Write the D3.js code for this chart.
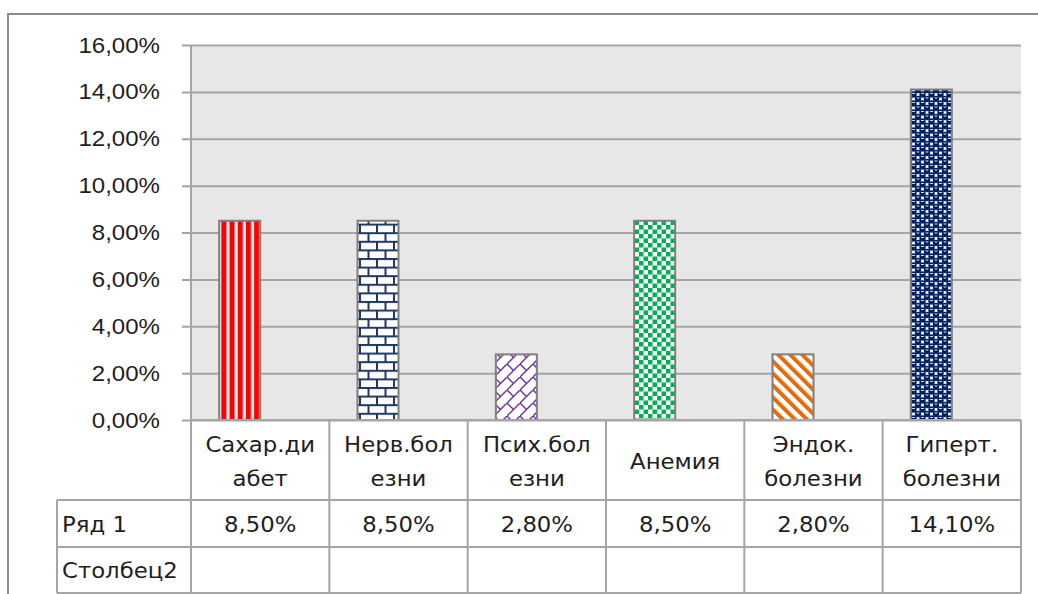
<!DOCTYPE html>
<html lang="ru">
<head>
<meta charset="utf-8">
<script src="https://cdn.jsdelivr.net/npm/d3@7"></script>
<style>
  html, body { margin: 0; padding: 0; background: #fff; }
  svg { display: block; font-family: "DejaVu Sans", sans-serif; }
</style>
</head>
<body>
<svg id="chart" width="1038" height="594"></svg>
<script>
// Categories, their wrapped header lines and the series values (fractions)
const categories = ["Сахар.диабет", "Нерв.болезни", "Псих.болезни", "Анемия", "Эндок. болезни", "Гиперт. болезни"];
const categoryLines = [["Сахар.ди", "абет"], ["Нерв.бол", "езни"], ["Псих.бол", "езни"], ["Анемия"], ["Эндок.", "болезни"], ["Гиперт.", "болезни"]];
const seriesNames = ["Ряд 1", "Столбец2"];
const series1 = [0.085, 0.085, 0.028, 0.085, 0.028, 0.141];
const series2 = [null, null, null, null, null, null];
const yTicks = [0, 0.02, 0.04, 0.06, 0.08, 0.10, 0.12, 0.14, 0.16];
const patternIds = ["pRed", "pBrick", "pPurple", "pGreen", "pOrange", "pNavy"];

const svg = d3.select("#chart");
const plot = { left: 191, right: 1021, top: 45, bottom: 420 };
const table = { left: 57, row1: 500, row2: 547, bottom: 593 };
const gridColor = "#a5a5a5";
const textColor = "#1e1e1e";
const fontSize = 21.5;
const stretch = 1.06;

const ru = d3.formatLocale({ decimal: ",", thousands: "\u00a0", grouping: [3], currency: ["", " ₽"] });
const pct = ru.format(".2%");

const x = d3.scaleBand().domain(categories).range([plot.left, plot.right]).padding(0);
const xs = d3.scaleBand().domain(seriesNames).range([0, x.bandwidth()]).paddingInner(0).paddingOuter(0.687);
const y = d3.scaleLinear().domain([0, 0.16]).range([plot.bottom, plot.top]);

// places a slightly widened text label at (px, py)
function label(parent, px, py, str, anchor, sx) {
  return parent.append("text")
    .attr("transform", `translate(${px},${py}) scale(${sx || stretch},1)`)
    .attr("text-anchor", anchor || "middle")
    .attr("fill", textColor)
    .attr("font-size", fontSize)
    .text(str);
}

// ---------- fill patterns ----------
const defs = svg.append("defs");
function pat(id, w, h, transform) {
  const p = defs.append("pattern").attr("id", id).attr("patternUnits", "userSpaceOnUse")
    .attr("width", w).attr("height", h);
  if (transform) p.attr("patternTransform", transform);
  return p;
}
// red wide vertical stripes
{
  const p = pat("pRed", 8.2, 10);
  p.append("rect").attr("width", 8.2).attr("height", 10).attr("fill", "#ff0000");
  p.append("rect").attr("x", 5).attr("width", 3).attr("height", 10).attr("fill", "#fff");
}
// navy horizontal brick
{
  const w = 17, h = 17.2, c = "#1f3864";
  const p = pat("pBrick", w, h);
  p.append("rect").attr("width", w).attr("height", h).attr("fill", "#fff");
  p.append("rect").attr("y", 0).attr("width", w).attr("height", 2).attr("fill", c);
  p.append("rect").attr("y", h / 2).attr("width", w).attr("height", 2).attr("fill", c);
  p.append("rect").attr("x", 2).attr("y", 0).attr("width", 2).attr("height", h / 2).attr("fill", c);
  p.append("rect").attr("x", 2 + w / 2).attr("y", h / 2).attr("width", 2).attr("height", h / 2).attr("fill", c);
}
// purple diagonal brick
{
  const s = 13, c = "#7030a0";
  const p = pat("pPurple", s, s);
  p.append("rect").attr("width", s).attr("height", s).attr("fill", "#fff");
  p.append("line").attr("x1", 0).attr("y1", s).attr("x2", s).attr("y2", 0).attr("stroke", c).attr("stroke-width", 1.4);
  p.append("line").attr("x1", 0).attr("y1", 0).attr("x2", s / 2).attr("y2", s / 2).attr("stroke", c).attr("stroke-width", 1.4);
}
// green checkerboard
{
  const s = 9, c = "#00b050";
  const p = pat("pGreen", s, s);
  p.append("rect").attr("width", s).attr("height", s).attr("fill", "#fff");
  p.append("rect").attr("width", s / 2).attr("height", s / 2).attr("fill", c);
  p.append("rect").attr("x", s / 2).attr("y", s / 2).attr("width", s / 2).attr("height", s / 2).attr("fill", c);
}
// orange wide downward diagonal
{
  const p = pat("pOrange", 8.5, 10, "rotate(-45)");
  p.append("rect").attr("width", 8.5).attr("height", 10).attr("fill", "#fff");
  p.append("rect").attr("width", 4).attr("height", 10).attr("fill", "#e46c0a");
}
// navy spheres
{
  const s = 9, c = "#002060";
  const p = pat("pNavy", s, s);
  p.append("rect").attr("width", s).attr("height", s).attr("fill", "#fff");
  [[0, 0], [s, 0], [0, s], [s, s], [s / 2, s / 2]].forEach(([cx, cy]) => {
    p.append("circle").attr("cx", cx).attr("cy", cy).attr("r", 3.2).attr("fill", c);
    p.append("rect").attr("x", cx - 1.3).attr("y", cy - 1.5).attr("width", 2.6).attr("height", 1).attr("fill", "#e8ecf5");
  });
}

// ---------- outer chart frame ----------
svg.append("path")
  .attr("d", `M8,${594 + 5}V14H${1038 + 5}`)
  .attr("fill", "none").attr("stroke", "#8c8c8c").attr("stroke-width", 2);

// ---------- plot area ----------
svg.append("rect")
  .attr("x", plot.left).attr("y", plot.top)
  .attr("width", plot.right - plot.left).attr("height", plot.bottom - plot.top)
  .attr("fill", "#e7e7e7");

// gridlines with outward ticks
const yAxis = d3.axisLeft(y).tickValues(yTicks).tickFormat(pct)
  .tickSizeInner(-(plot.right - plot.left)).tickSizeOuter(0);
const gy = svg.append("g").attr("transform", `translate(${plot.left},0)`).call(yAxis);
gy.select(".domain").remove();
gy.selectAll(".tick line")
  .attr("x1", -9)
  .attr("stroke", gridColor).attr("stroke-width", 2);
// tick labels, drawn with the shared label style
gy.selectAll(".tick text").remove();
gy.selectAll(".tick").each(function (d) {
  label(d3.select(this), -31, 7, pct(d), "end", 1.12);
});

// vertical axis line
svg.append("line")
  .attr("x1", plot.left).attr("x2", plot.left)
  .attr("y1", plot.top).attr("y2", plot.bottom)
  .attr("stroke", gridColor).attr("stroke-width", 2);

// ---------- bars ----------
const bars = categories.map((c, i) => ({ cat: c, v: series1[i], p: patternIds[i] }));
svg.append("g").selectAll("rect").data(bars).join("rect")
  .attr("x", d => x(d.cat) + xs(seriesNames[0]))
  .attr("width", xs.bandwidth())
  .attr("y", d => y(d.v))
  .attr("height", d => y(0) - y(d.v))
  .attr("fill", d => `url(#${d.p})`)
  .attr("stroke", "#7f7f7f").attr("stroke-width", 2);

// ---------- data table ----------
const tg = svg.append("g").attr("stroke", gridColor).attr("stroke-width", 2).attr("fill", "none");
// horizontal rules
tg.append("line").attr("x1", plot.left).attr("x2", plot.right).attr("y1", plot.bottom).attr("y2", plot.bottom);
[table.row1, table.row2, table.bottom].forEach(yy =>
  tg.append("line").attr("x1", table.left).attr("x2", plot.right).attr("y1", yy).attr("y2", yy));
// vertical rules
const colEdges = categories.map(c => x(c)).concat([plot.right]);
colEdges.forEach(xx =>
  tg.append("line").attr("x1", xx).attr("x2", xx).attr("y1", plot.bottom).attr("y2", table.bottom));
tg.append("line").attr("x1", table.left).attr("x2", table.left).attr("y1", table.row1).attr("y2", table.bottom);

const txt = svg.append("g");
// category headers
categories.forEach((c, i) => {
  const lines = categoryLines[i];
  const cx = x(c) + x.bandwidth() / 2;
  const mid = (plot.bottom + table.row1) / 2;
  const lh = 34;
  lines.forEach((ln, j) => {
    label(txt, cx, mid + (j - (lines.length - 1) / 2) * lh + 9, ln);
  });
});
// row labels
[table.row1, table.row2].forEach((top, r) => {
  const bottom = r === 0 ? table.row2 : table.bottom;
  label(txt, table.left + 5, (top + bottom) / 2 + 8, seriesNames[r], "start");
});
// values
series1.forEach((v, i) => {
  label(txt, x(categories[i]) + x.bandwidth() / 2, (table.row1 + table.row2) / 2 + 8, pct(v));
});
series2.forEach((v, i) => {
  if (v == null) return;
  label(txt, x(categories[i]) + x.bandwidth() / 2, (table.row2 + table.bottom) / 2 + 8, pct(v));
});
</script>
</body>
</html>
